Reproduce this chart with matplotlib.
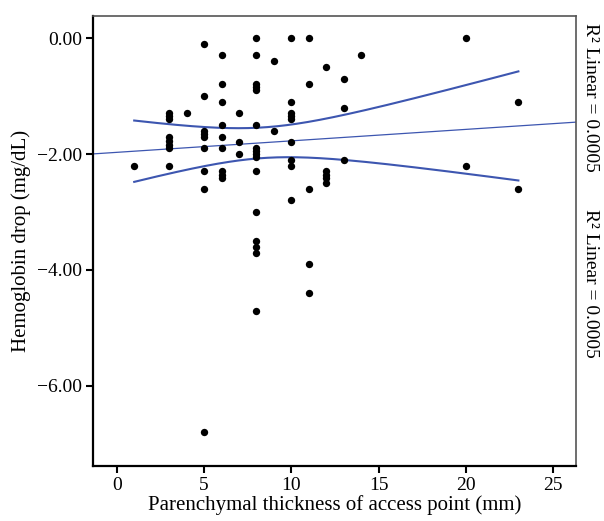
import numpy as np
import matplotlib
matplotlib.use("Agg")
import matplotlib.pyplot as plt

# parenchymal thickness (mm) and hemoglobin drop (mg/dL)
thickness = [1,
             3, 3, 3, 3, 3, 3, 3, 3,
             4,
             5, 5, 5, 5, 5, 5, 5, 5, 5,
             6, 6, 6, 6, 6, 6, 6, 6, 6,
             7, 7, 7,
             8, 8, 8, 8, 8, 8, 8, 8, 8, 8, 8, 8, 8, 8, 8, 8,
             9, 9,
             10, 10, 10, 10, 10, 10, 10, 10, 10,
             11, 11, 11, 11, 11,
             12, 12, 12, 12, 12,
             13, 13, 13,
             14,
             20, 20,
             23, 23]
hb_drop = [-2.2,
           -1.3, -1.35, -1.4, -1.7, -1.77, -1.84, -1.9, -2.2,
           -1.3,
           -0.1, -1.0, -1.6, -1.65, -1.7, -1.9, -2.3, -2.6, -6.8,
           -0.3, -0.8, -1.1, -1.5, -1.7, -1.9, -2.3, -2.36, -2.41,
           -1.3, -1.8, -2.0,
           0.0, -0.3, -0.8, -0.85, -0.9, -1.5, -1.9, -1.95, -2.0, -2.05, -2.3,
           -3.0, -3.5, -3.6, -3.7, -4.7,
           -0.4, -1.6,
           0.0, -1.1, -1.3, -1.35, -1.4, -1.8, -2.1, -2.2, -2.8,
           0.0, -0.8, -2.6, -3.9, -4.4,
           -0.5, -2.3, -2.36, -2.42, -2.5,
           -0.7, -1.2, -2.1,
           -0.3,
           0.0, -2.2,
           -1.1, -2.6]

x_ticks = [0, 5, 10, 15, 20, 25]
y_ticks = [0.0, -2.0, -4.0, -6.0]
r2_label = "R\u00b2 Linear = 0.0005"

plt.rcParams['font.family'] = ['Liberation Serif', 'DejaVu Serif']
line_col = "#3d56b0"

x = np.array(thickness, dtype=float)
y = np.array(hb_drop, dtype=float)

# linear fit + 95% confidence band of the mean
slope, intercept = np.polyfit(x, y, 1)
n = len(x)
resid = y - (intercept + slope * x)
s = np.sqrt(np.sum(resid ** 2) / (n - 2))
sxx = np.sum((x - x.mean()) ** 2)
t_crit = 1.993

fig = plt.figure(figsize=(6.04, 5.21), dpi=100)
ax = fig.add_axes([93 / 604, 1 - 466 / 521, (576 - 93) / 604, (466 - 16) / 521])

xlim = (-1.36, 26.3)
xl = np.array(xlim)
ax.plot(xl, intercept + slope * xl, color=line_col, lw=0.9)

xb = np.linspace(x.min(), x.max(), 200)
yb = intercept + slope * xb
hw = t_crit * s * np.sqrt(1 / n + (xb - x.mean()) ** 2 / sxx)
ax.plot(xb, yb + hw, color=line_col, lw=1.5)
ax.plot(xb, yb - hw, color=line_col, lw=1.5)

ax.scatter(x, y, s=28, color="black", marker="o", zorder=3, linewidths=0)

ax.set_xlim(*xlim)
ax.set_ylim(-7.38, 0.38)
ax.set_xticks(x_ticks)
ax.set_yticks(y_ticks)
ax.set_yticklabels([f"{v:.2f}".replace("-", "\u2212") for v in y_ticks])
ax.tick_params(labelsize=14, direction="out", length=5, width=1.5, color="black", pad=3)

for side in ["left", "bottom"]:
    ax.spines[side].set_linewidth(1.6)
    ax.spines[side].set_color("black")
for side in ["top", "right"]:
    ax.spines[side].set_linewidth(1.2)
    ax.spines[side].set_color("#555555")

ax.set_xlabel("Parenchymal thickness of access point (mm)", fontsize=15, labelpad=1)
ax.set_ylabel("Hemoglobin drop (mg/dL)", fontsize=15, labelpad=4)

fig.text(590 / 604, 1 - 97 / 521, r2_label, rotation=-90, ha="center", va="center", fontsize=14)
fig.text(590 / 604, 1 - 283 / 521, r2_label, rotation=-90, ha="center", va="center", fontsize=14)

fig.savefig("out.png", dpi=100)
